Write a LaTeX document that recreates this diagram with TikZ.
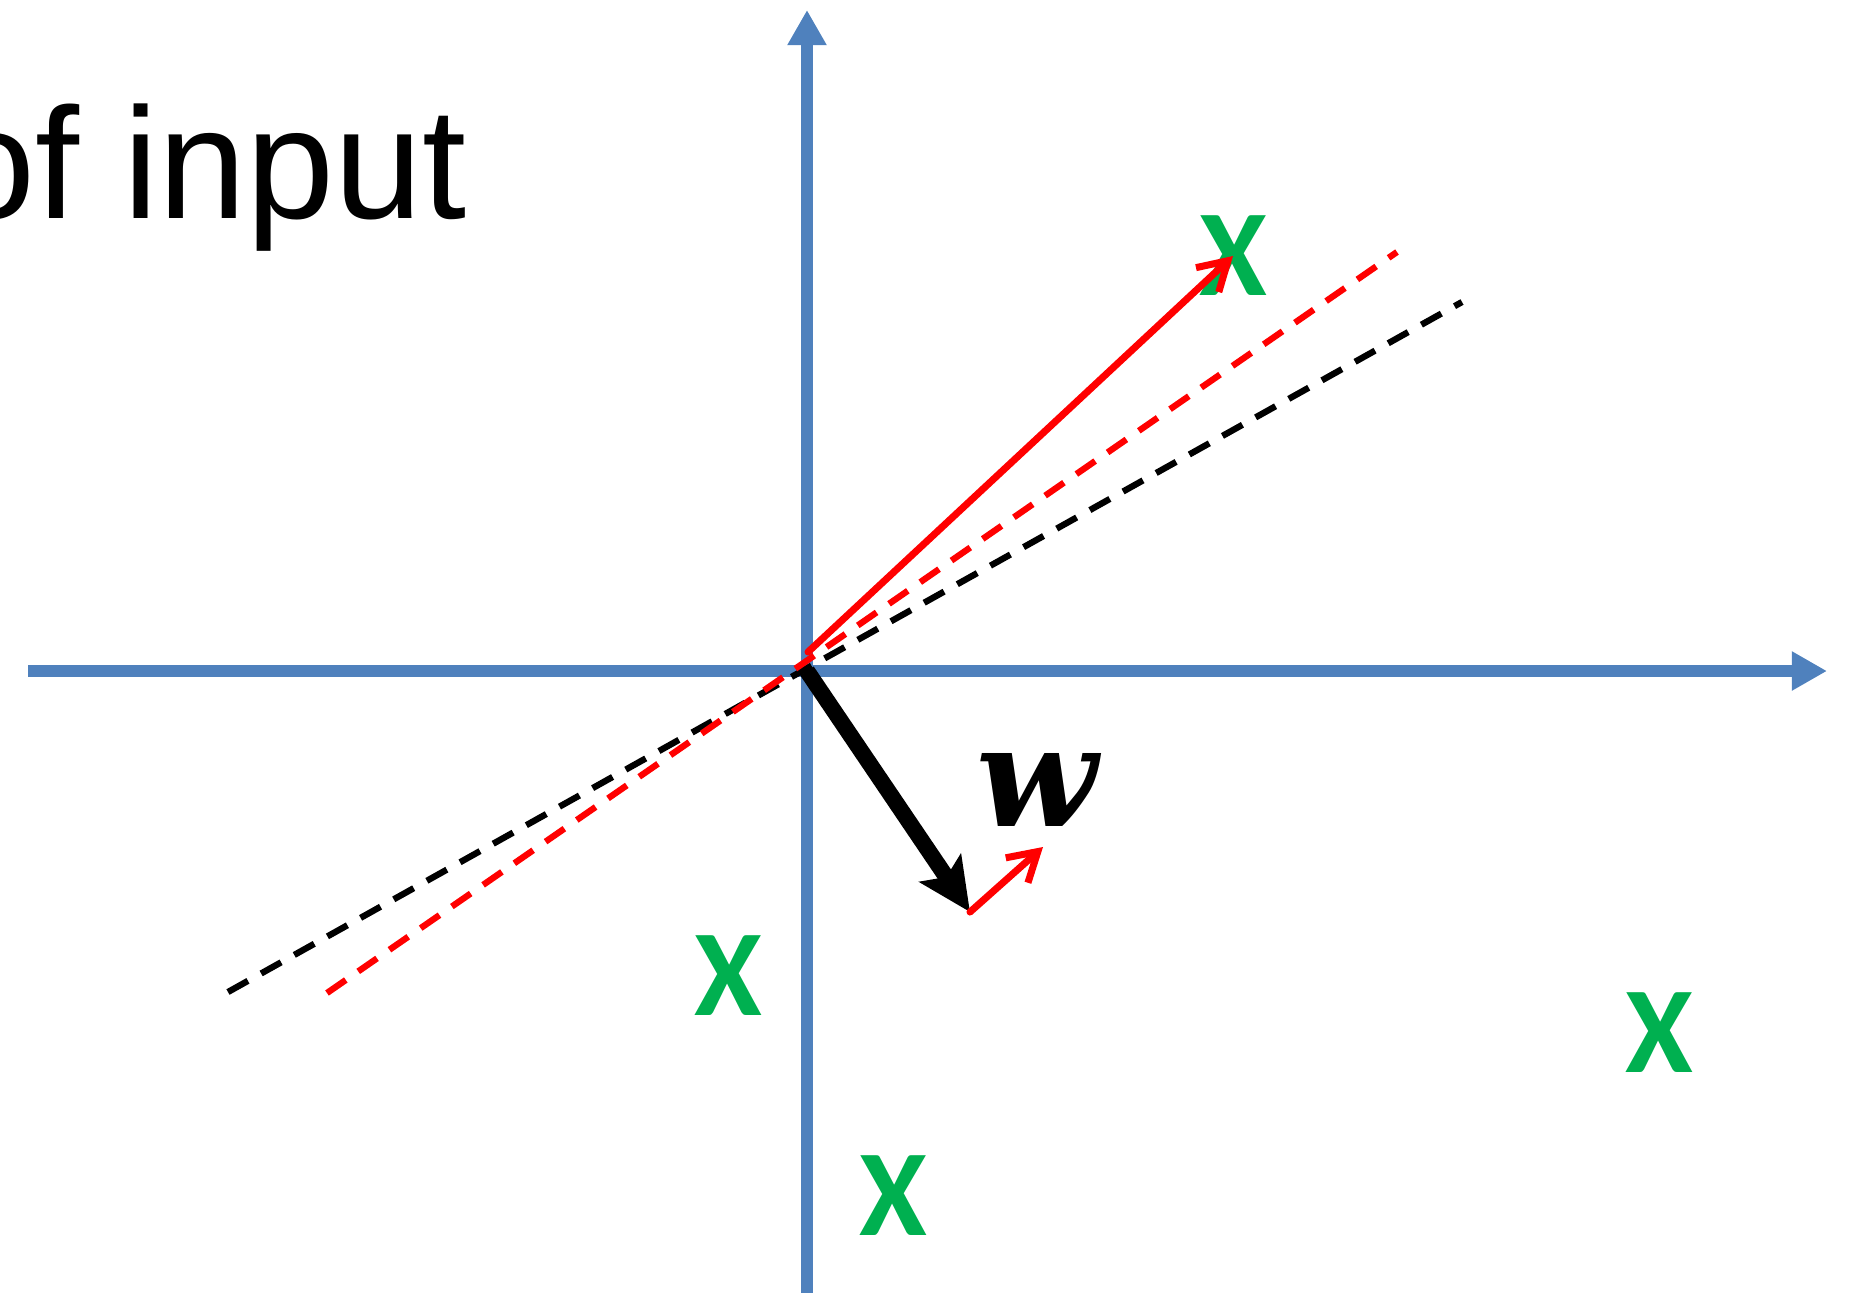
\documentclass[tikz,border=0pt]{standalone}
\usepackage{fontspec}
\setmainfont{Liberation Sans}
\newfontfamily\crossfont{Carlito}
\newfontfamily\wfont{DejaVu Serif}
\usetikzlibrary{arrows.meta}
\definecolor{axisblue}{RGB}{79,129,189}
\definecolor{ptgreen}{RGB}{0,176,80}
\tikzset{
  axis/.style={axisblue, line width=3.4pt, -{Triangle[length=10pt,width=10.5pt]}},
  proj/.style={red, line width=2pt, line cap=round, -{Straight Barb[length=8pt,width=9.5pt]}},
  hyper/.style={line width=1.8pt, dash pattern=on 6.5pt off 4.3pt},
  pt/.style={ptgreen, font=\crossfont\bfseries\fontsize{35}{35}\selectfont, inner sep=0pt},
}
\begin{document}
\begin{tikzpicture}[x=0.01cm, y=-0.01cm]
\useasboundingbox (0,0) rectangle (1853,1293);
\clip (0,0) rectangle (1853,1293);
\node[anchor=base east, inner sep=0pt, font=\fontsize{45}{45}\selectfont] (title) at (467,218) {of input};
% axes
\coordinate (O) at (807,671);
\coordinate (xl) at (28,671);
\coordinate (xr) at (1827,671);
\coordinate (yb) at (807,1293);
\coordinate (yt) at (807,10);
\draw[axis] (xl) -- (xr);
\draw[axis] (yb) -- (yt);
% boundaries
\coordinate (b1) at (228,992);
\coordinate (b2) at (1462,302);
\coordinate (r1) at (327,993);
\coordinate (r2) at (1397,252);
\draw[hyper, black] (b1) -- (b2);
\draw[hyper, red] (r1) -- (r2);
% points
\foreach \n/\x/\y in {a/1233/256, b/728/976, c/893/1196, d/1659/1033}
{
	\node[pt] (x\n) at (\x,\y) {X};
}
\coordinate (s) at (808,652);
\draw[proj] (s) -- (xa.center);
% weight vector
\coordinate (wt) at (970,912);
\coordinate (wr) at (1043,847);
\draw[line width=4.6pt, -{Stealth[length=15pt,width=14pt,inset=3pt]}] (O) -- (wt);
\draw[proj] (wt) -- (wr);
\node[inner sep=0pt, font=\wfont\bfseries\itshape\fontsize{40}{40}\selectfont] (wlab) at (1037,790) {w};
\end{tikzpicture}
\end{document}
